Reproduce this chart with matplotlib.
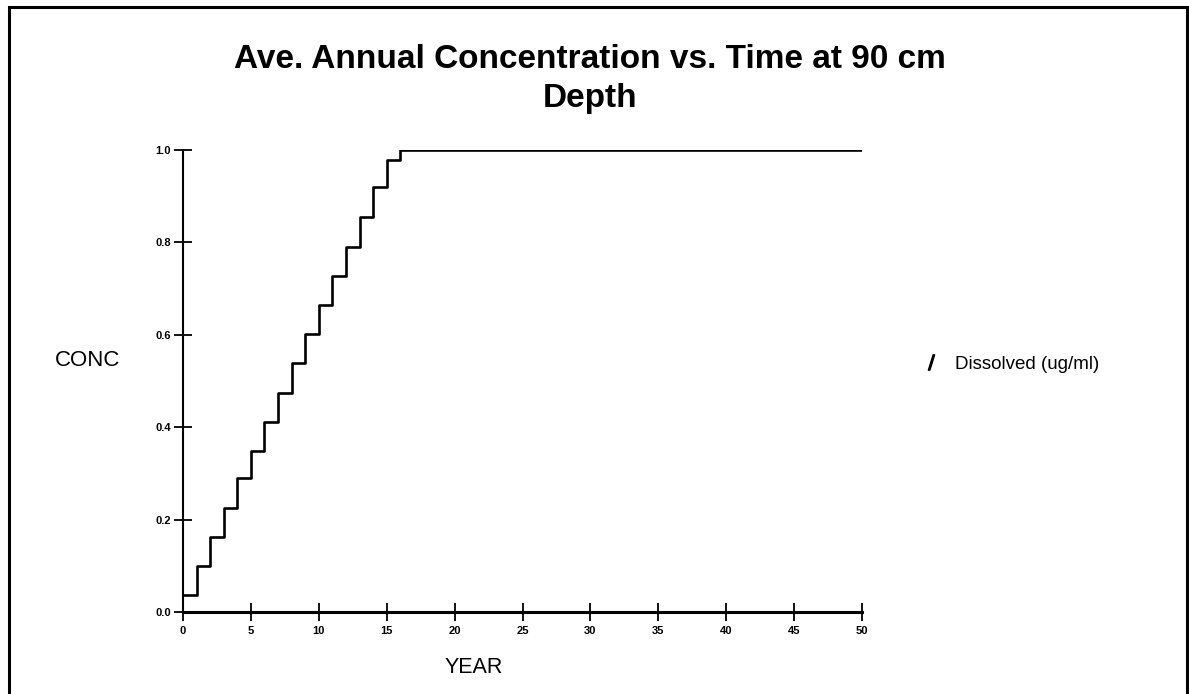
import matplotlib.pyplot as plt
from matplotlib.lines import Line2D
from matplotlib.patches import Rectangle

years = [0, 1, 2, 3, 4, 5, 6, 7, 8, 9, 10, 11, 12, 13, 14, 15, 16, 50]
conc = [0.037, 0.100, 0.163, 0.226, 0.290, 0.349, 0.411, 0.474, 0.538,
        0.602, 0.665, 0.728, 0.791, 0.855, 0.919, 0.978, 1.0, 1.0]

x_ticks = [0, 5, 10, 15, 20, 25, 30, 35, 40, 45, 50]
y_ticks = [0.0, 0.2, 0.4, 0.6, 0.8, 1.0]

plt.rcParams['font.family'] = ['Liberation Sans', 'DejaVu Sans']

fig = plt.figure(figsize=(11.89, 6.94), dpi=100)
fig.patches.append(Rectangle((0.0075, -0.01), 0.9905, 1.0, transform=fig.transFigure,
                             fill=False, edgecolor='black', linewidth=2.2))

ax = fig.add_axes([0.1539, 0.1182, 0.5711, 0.6657])
ax.plot(years, conc, drawstyle='steps-post', color='black', linewidth=1.9)

ax.set_xlim(0, 50)
ax.set_ylim(0, 1.0)
ax.set_xticks(x_ticks)
ax.set_yticks(y_ticks)
ax.set_xticklabels([str(t) for t in x_ticks], fontsize=8, fontweight='bold')
ax.set_yticklabels([f"{t:.1f}" for t in y_ticks], fontsize=8, fontweight='bold')
ax.tick_params(axis='x', direction='inout', length=13, width=1.3, pad=3.5)
ax.tick_params(axis='y', direction='inout', length=13, width=1.3, pad=2)

for side in ['top', 'right']:
    ax.spines[side].set_visible(False)
ax.spines['bottom'].set_linewidth(2.2)
ax.spines['left'].set_linewidth(1.5)

# baseline here is the baseline of the last line ("Depth")
fig.text(0.496, 0.8458, "Ave. Annual Concentration vs. Time at 90 cm\nDepth",
         ha='center', va='baseline', fontsize=24, fontweight='bold', linespacing=1.35)
fig.text(0.074, 0.480, "CONC", ha='center', va='center', fontsize=16)
fig.text(0.3987, 0.0375, "YEAR", ha='center', va='center', fontsize=15.5)

handle = Line2D([], [], color='black', marker=r'$/$', linestyle='None', markersize=11)
fig.legend([handle], ["Dissolved (ug/ml)"], loc='center left',
           bbox_to_anchor=(0.7609, 0.4755), frameon=False, fontsize=13.5,
           handlelength=1.0, handletextpad=0.78)

fig.savefig('out.png', dpi=100)
